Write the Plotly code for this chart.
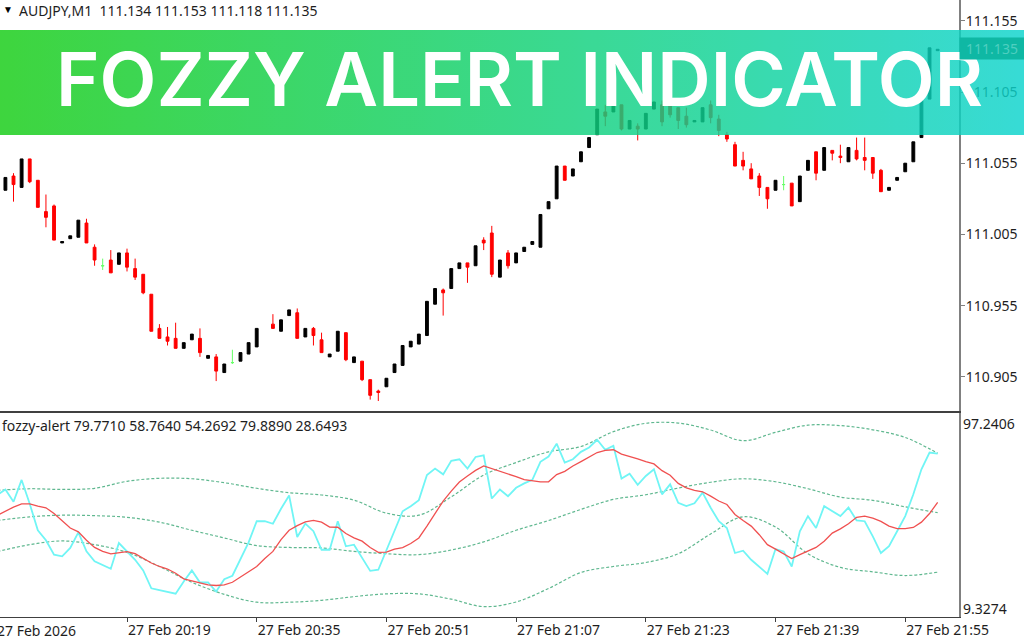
import base64

import pandas as pd
import plotly.graph_objects as go
from plotly.subplots import make_subplots

# one minute bars, 20:03 is only there so the indicator lines reach the left edge
barTimes = pd.date_range('2026-02-27 20:03', periods=117, freq='min')

opens = [None,
    111.036, 111.046, 111.038, 111.058, 111.043, 111.021, 111.025, 110.999, 111.002, 111.003,
    111.013, 110.996, 110.983, 110.987, 110.984, 110.992, 110.981, 110.977, 110.963, 110.939,
    110.933, 110.932, 110.925, 110.931, 110.932, 110.918, 110.919, 110.908, 110.915, 110.916,
    110.921, 110.926, None, 110.942, 110.937, 110.948, 110.950, 110.933, 110.939, 110.931,
    110.919, 110.923, 110.936, 110.915, 110.916, 110.903, 110.895, 110.898, 110.908, 110.913,
    110.926, 110.928, 110.934, 110.956, 110.966, 110.967, 110.981, 110.985, 110.983, 111.001,
    111.006, 110.975, 110.992, 110.985, 110.993, 110.998, 110.996, 111.023, 111.030, 111.053,
    111.046, 111.056, 111.066, 111.075, 111.091, 111.091, 111.096, 111.079, 111.081, 111.079,
    111.093, 111.096, 111.096, 111.094, 111.088, 111.084, 111.084, 111.096, 111.086, 111.075,
    111.068, 111.057, 111.051, 111.046, 111.038, 111.036, 111.040, 111.041, 111.028, 111.050,
    111.063, 111.050, 111.064, 111.060, 111.056, 111.064, 111.059, 111.059, 111.050, 111.036,
    111.043, 111.049, 111.056, 111.073, 111.100, 111.134]
highs = [None,
    111.045, 111.048, 111.058, 111.058, 111.043, 111.033, 111.026, 111.000, 111.004, 111.015,
    111.016, 110.998, 110.988, 110.994, 110.992, 110.995, 110.988, 110.977, 110.963, 110.942,
    110.940, 110.943, 110.929, 110.935, 110.939, 110.920, 110.921, 110.914, 110.924, 110.922,
    110.929, 110.939, None, 110.949, 110.945, 110.952, 110.953, 110.939, 110.940, 110.936,
    110.921, 110.937, 110.936, 110.919, 110.916, 110.903, 110.896, 110.904, 110.914, 110.927,
    110.930, 110.935, 110.958, 110.967, 110.967, 110.981, 110.985, 110.985, 110.997, 111.003,
    111.011, 110.987, 110.994, 110.992, 110.996, 111.000, 111.019, 111.028, 111.053, 111.053,
    111.051, 111.063, 111.073, 111.093, 111.096, 111.096, 111.096, 111.085, 111.083, 111.090,
    111.098, 111.099, 111.099, 111.094, 111.094, 111.085, 111.094, 111.099, 111.089, 111.077,
    111.070, 111.063, 111.055, 111.048, 111.038, 111.043, 111.046, 111.041, 111.046, 111.057,
    111.063, 111.066, 111.064, 111.068, 111.066, 111.073, 111.073, 111.059, 111.051, 111.038,
    111.045, 111.055, 111.070, 111.099, 111.136, 111.135]
lows = [None,
    111.036, 111.028, 111.038, 111.041, 111.024, 111.010, 111.001, 110.999, 111.002, 111.003,
    110.999, 110.983, 110.980, 110.978, 110.984, 110.979, 110.973, 110.963, 110.937, 110.932,
    110.927, 110.925, 110.925, 110.931, 110.919, 110.918, 110.902, 110.908, 110.914, 110.916,
    110.921, 110.926, None, 110.939, 110.937, 110.948, 110.932, 110.933, 110.927, 110.922,
    110.919, 110.923, 110.916, 110.915, 110.902, 110.889, 110.888, 110.898, 110.908, 110.913,
    110.926, 110.928, 110.934, 110.956, 110.948, 110.967, 110.981, 110.971, 110.983, 110.994,
    110.975, 110.975, 110.981, 110.985, 110.993, 110.998, 110.996, 111.023, 111.030, 111.043,
    111.046, 111.056, 111.066, 111.075, 111.081, 111.091, 111.078, 111.079, 111.071, 111.079,
    111.093, 111.081, 111.087, 111.079, 111.080, 111.084, 111.084, 111.083, 111.074, 111.070,
    111.053, 111.050, 111.044, 111.032, 111.023, 111.036, 111.036, 111.025, 111.028, 111.050,
    111.043, 111.050, 111.057, 111.055, 111.056, 111.057, 111.050, 111.044, 111.035, 111.036,
    111.043, 111.049, 111.056, 111.073, 111.100, 111.134]
closes = [None,
    111.045, 111.040, 111.058, 111.042, 111.024, 111.017, 111.001, 111.000, 111.004, 111.015,
    110.999, 110.987, 110.983, 110.978, 110.992, 110.982, 110.975, 110.964, 110.937, 110.932,
    110.930, 110.925, 110.929, 110.935, 110.922, 110.920, 110.909, 110.914, 110.915, 110.922,
    110.929, 110.939, None, 110.939, 110.945, 110.952, 110.932, 110.939, 110.934, 110.922,
    110.921, 110.937, 110.917, 110.919, 110.903, 110.892, 110.894, 110.904, 110.914, 110.927,
    110.930, 110.935, 110.958, 110.967, 110.964, 110.981, 110.985, 110.982, 110.997, 110.999,
    110.977, 110.987, 110.983, 110.992, 110.996, 111.000, 111.019, 111.028, 111.053, 111.043,
    111.051, 111.063, 111.073, 111.093, 111.088, 111.096, 111.079, 111.085, 111.079, 111.090,
    111.098, 111.084, 111.089, 111.085, 111.082, 111.085, 111.094, 111.087, 111.078, 111.072,
    111.053, 111.053, 111.044, 111.038, 111.030, 111.043, 111.040, 111.025, 111.046, 111.057,
    111.048, 111.066, 111.062, 111.059, 111.066, 111.058, 111.057, 111.048, 111.035, 111.038,
    111.045, 111.055, 111.070, 111.099, 111.136, 111.135]
# bars drawn in green, open and close are the same
dojiBars = [13, 29, 97]

fozzyFast = [61.9,
    64.3, 59.0, 68.4, 58.1, 46.7, 42.4, 36.2, 35.5, 39.1, 45.8,
    37.6, 33.3, 31.8, 30.1, 41.2, 37.6, 34.0, 29.4, 21.7, 20.9,
    20.3, 19.4, 24.6, 29.4, 24.2, 24.2, 20.3, 25.6, 27.1, 34.0,
    41.5, 50.6, 50.6, 49.5, 56.0, 61.7, 43.8, 49.6, 46.3, 38.3,
    38.3, 50.6, 39.8, 40.5, 34.7, 29.2, 29.7, 38.3, 47.0, 54.9,
    57.1, 59.7, 70.5, 73.3, 70.8, 76.6, 77.3, 73.3, 78.3, 79.0,
    60.4, 64.3, 61.4, 65.0, 66.9, 68.4, 76.2, 78.5, 84.0, 75.9,
    77.3, 80.5, 82.4, 85.7, 81.4, 83.1, 69.0, 71.1, 66.3, 70.1,
    73.0, 62.2, 66.5, 58.5, 57.1, 58.3, 62.9, 56.4, 50.6, 47.7,
    36.9, 37.9, 34.0, 30.8, 27.9, 38.6, 37.6, 31.1, 46.3, 52.8,
    47.7, 57.1, 54.9, 52.8, 56.5, 51.0, 50.6, 44.1, 36.9, 39.8,
    46.3, 52.8, 62.2, 73.0, 80.2, 79.771]
fozzySignal = [53.1,
    55.0, 56.7, 58.1, 58.1, 57.1, 56.4, 53.9, 50.6, 47.7, 46.0,
    42.4, 39.3, 37.6, 36.5, 36.9, 37.5, 36.6, 34.7, 32.6, 31.1,
    30.0, 28.2, 25.8, 24.9, 23.9, 23.2, 22.9, 23.2, 24.3, 26.5,
    28.6, 31.1, 34.5, 37.6, 42.7, 46.7, 48.7, 50.3, 51.0, 50.2,
    48.1, 48.0, 45.3, 43.4, 42.0, 39.3, 37.2, 37.3, 38.6, 39.2,
    41.0, 43.4, 48.5, 53.9, 59.3, 63.6, 67.5, 70.1, 72.5, 74.4,
    73.3, 72.3, 71.1, 69.8, 68.5, 68.1, 67.6, 67.6, 70.7, 72.1,
    74.4, 76.3, 78.2, 80.2, 81.1, 81.4, 79.5, 78.6, 77.5, 76.3,
    75.3, 72.4, 70.4, 66.9, 65.0, 63.9, 63.3, 61.4, 59.3, 57.8,
    53.5, 50.9, 48.5, 44.8, 40.5, 38.6, 36.6, 34.5, 36.2, 37.6,
    39.3, 42.0, 45.5, 47.3, 49.5, 52.3, 52.8, 51.9, 50.5, 48.5,
    47.4, 47.4, 47.9, 50.2, 53.9, 58.764]

# bands
bandTimes = barTimes[::4]
bandUpper = [63.9, 64.6, 64.3, 64.8, 67.8, 69.1, 68.9, 67.2, 64.8, 62.9,
    61.9, 59.7, 54.1, 53.2, 61.1, 70.5, 75.9, 80.5, 82.8, 89.2,
    92.8, 92.9, 89.9, 85.3, 88.9, 92.0, 91.8, 90.0, 86.7, 79.889]
bandMiddle = [50.9, 52.5, 53.2, 53.0, 52.3, 50.2, 46.7, 43.4, 40.1, 39.3,
    39.1, 37.6, 36.6, 36.2, 38.2, 41.7, 46.7, 50.9, 55.7, 60.0,
    62.0, 64.9, 67.4, 68.9, 67.6, 64.6, 61.0, 59.6, 56.8, 54.2692]
bandLower = [37.5, 40.5, 42.1, 40.5, 37.2, 31.1, 24.3, 19.1, 15.7, 15.7,
    16.5, 18.1, 19.3, 19.3, 17.0, 13.8, 15.8, 21.6, 28.5, 31.1,
    32.8, 36.6, 45.1, 52.5, 48.1, 36.6, 30.7, 28.8, 27.2, 28.6493]

priceTicks = [111.155, 111.105, 111.055, 111.005, 110.955, 110.905]
timeTicks = ['2026-02-27 20:19', '2026-02-27 20:35', '2026-02-27 20:51', '2026-02-27 21:07',
    '2026-02-27 21:23', '2026-02-27 21:39', '2026-02-27 21:55']

WIDTH = 1024
HEIGHT = 640
uiFont = 'Noto Sans'
textColor = '#1e1e1e'
axisColor = '#808080'


def px(x):
    return x / WIDTH


def py(y):
    return 1 - y / HEIGHT


def pickBars(values, keep):
    return [v if keep(i) else None for i, v in enumerate(values)]


def addCandles(fig, keep, upColor, downColor):
    fig.add_trace(go.Candlestick(
        x=barTimes,
        open=pickBars(opens, keep),
        high=pickBars(highs, keep),
        low=pickBars(lows, keep),
        close=pickBars(closes, keep),
        increasing=dict(line=dict(color=upColor, width=1), fillcolor=upColor),
        decreasing=dict(line=dict(color=downColor, width=1), fillcolor=downColor),
        showlegend=False,
    ), row=1, col=1)


def label(text, x, y, anchor='left', **kwargs):
    return dict(text=text, x=px(x), y=py(y), xref='paper', yref='paper', xanchor=anchor, yanchor='middle',
        showarrow=False, **kwargs)


fig = make_subplots(rows=2, cols=1, shared_xaxes=True)

addCandles(fig, lambda i: i not in dojiBars, '#000000', '#ff0000')
addCandles(fig, lambda i: i in dojiBars, '#66ff66', '#66ff66')

for band in (bandUpper, bandMiddle, bandLower):
    fig.add_trace(go.Scatter(x=bandTimes, y=band, mode='lines', showlegend=False,
        line=dict(color='#60b890', width=1.2, dash='3px,2px', shape='spline')), row=2, col=1)
fig.add_trace(go.Scatter(x=barTimes, y=fozzyFast, mode='lines', showlegend=False,
    line=dict(color='#70f5f5', width=1.8)), row=2, col=1)
fig.add_trace(go.Scatter(x=barTimes, y=fozzySignal, mode='lines', showlegend=False,
    line=dict(color='#f05050', width=1.3)), row=2, col=1)

# banner is a horizontal gradient, shapes can't do that so it goes in as an svg image
bannerSvg = ('<svg xmlns="http://www.w3.org/2000/svg" width="1024" height="105">'
    '<defs><linearGradient id="g"><stop offset="0" stop-color="#14cd14"/>'
    '<stop offset="1" stop-color="#0cd4cd"/></linearGradient></defs>'
    '<rect width="1024" height="105" fill="url(#g)"/></svg>')
bannerUri = 'data:image/svg+xml;base64,' + base64.b64encode(bannerSvg.encode()).decode()

xRange = ['2026-02-27 20:03:20', '2026-02-27 22:01:38']

fig.update_layout(
    width=WIDTH,
    height=HEIGHT,
    margin=dict(l=0, r=0, t=0, b=0, autoexpand=False),
    paper_bgcolor='white',
    plot_bgcolor='white',
    showlegend=False,
    boxgap=0.5,
    font=dict(family=uiFont, size=14, color=textColor),
    images=[dict(source=bannerUri, xref='paper', yref='paper', x=0, y=py(30), sizex=1, sizey=105 / HEIGHT,
        xanchor='left', yanchor='top', sizing='stretch', layer='above', opacity=0.82)],
    annotations=[
        label('FOZZY ALERT INDICATOR', 519, 79, 'center',
            font=dict(family='Inter', size=74, weight=600, color='white')),
        label('▼', 1, 9, font=dict(size=10, color='black')),
        label('AUDJPY,M1  111.134 111.153 111.118 111.135', 17, 10),
        label('fozzy-alert 79.7710 58.7640 54.2692 79.8890 28.6493', 0, 425),
        label('97.2406', 961, 423),
        label('9.3274', 961, 608),
        label('27 Feb 2026', -5, 630),
        label('111.135', 992, 49, 'center', width=62, bgcolor='#0fb8a4', font=dict(color='#4ecfc0')),
    ],
)

fig.update_xaxes(range=xRange, rangeslider_visible=False, showgrid=False, zeroline=False,
    domain=[0, px(959)])
fig.update_xaxes(showticklabels=False, ticks='', showline=True, linecolor='#404040', linewidth=1, row=1, col=1)
fig.update_xaxes(tickvals=timeTicks, tickformat='%d %b %H:%M', ticks='outside', ticklen=4, tickcolor='#404040',
    ticklabelposition='outside right', showline=True, mirror=True, linecolor='#404040', linewidth=1, row=2, col=1)

fig.update_yaxes(range=[110.881, 111.1696], domain=[py(411), 1], side='right', tickvals=priceTicks,
    tickformat='.3f', ticks='outside', ticklen=4, ticklabelstandoff=-2, tickcolor=axisColor, showgrid=False,
    zeroline=False, showline=True, linecolor=axisColor, linewidth=2, row=1, col=1)
fig.update_yaxes(range=[9.3274, 97.2406], domain=[py(617), py(413)], side='right', showticklabels=False,
    ticks='', showgrid=False, zeroline=False, showline=True, linecolor=axisColor, linewidth=2, row=2, col=1)

# page body has a default margin that would shift the 1024x640 figure
fig.write_html('out.html', config={'displayModeBar': False}, post_script="document.body.style.margin='0';")
